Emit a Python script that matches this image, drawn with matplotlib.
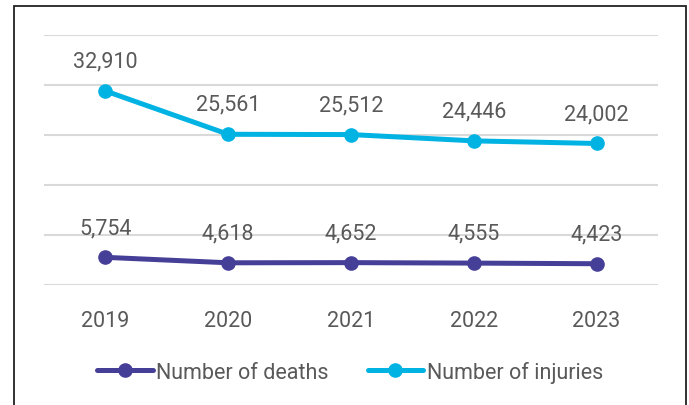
import matplotlib
matplotlib.use("Agg")
import matplotlib.pyplot as plt
from matplotlib.patches import Rectangle

years = ["2019", "2020", "2021", "2022", "2023"]
deaths = [5754, 4618, 4652, 4555, 4423]
injuries = [32910, 25561, 25512, 24446, 24002]
series_names = ["Number of deaths", "Number of injuries"]

c_deaths = "#463F98"
c_inj = "#00B3E3"
txt = "#595959"
grid_c = "#D9D9D9"
FONT = "Roboto"
FS = 15.5

plt.rcParams["font.family"] = [FONT, "DejaVu Sans"]

fig = plt.figure(figsize=(6.89, 4.06), dpi=100)
ax = fig.add_axes([44/689, 1-286/406, (658-44)/689, (286-36)/406])
ax2 = ax.twinx()

x = list(range(len(years)))
ax.set_xlim(-0.5, len(years) - 0.5)
ax.set_ylim(0, 52000)
ax2.set_ylim(0, 42400)

for i in range(6):
    f = i / 5
    ax.plot([0, 1], [f, f], transform=ax.transAxes, color=grid_c, lw=1.5, zorder=0)

l1, = ax.plot(x, deaths, color=c_deaths, lw=3.6, marker="o", markersize=9.5,
              solid_capstyle="round", label=series_names[0], zorder=3)
l2, = ax2.plot(x, injuries, color=c_inj, lw=3.6, marker="o", markersize=9.5,
               solid_capstyle="round", label=series_names[1], zorder=3)

for xi, v in zip(x, deaths):
    ax.annotate(f"{v:,}", (xi, v), xytext=(0, 21.5), textcoords="offset points",
                ha="center", va="center", fontsize=FS, color=txt)
for xi, v in zip(x, injuries):
    ax2.annotate(f"{v:,}", (xi, v), xytext=(0, 21.5), textcoords="offset points",
                 ha="center", va="center", fontsize=FS, color=txt)

for a in (ax, ax2):
    for s in a.spines.values():
        s.set_visible(False)
    a.set_yticks([])
ax.set_xticks(x)
ax.set_xticklabels(years, fontsize=FS, color=txt)
ax.tick_params(axis="x", length=0, pad=18)

leg = fig.legend(handles=[l1, l2], loc="center", bbox_to_anchor=(350/689, 1-373/406),
                 ncol=2, frameon=False, fontsize=FS, handlelength=2.6,
                 handletextpad=0.15, columnspacing=1.8, labelcolor=txt)

fig.patches.append(Rectangle((13.5/689, -0.1), (685.5-13.5)/689, 1.1 - 6.5/406,
                             transform=fig.transFigure, fill=False, edgecolor="#222222",
                             lw=1.3, zorder=10))

fig.savefig("out.png", dpi=100, facecolor="white")
